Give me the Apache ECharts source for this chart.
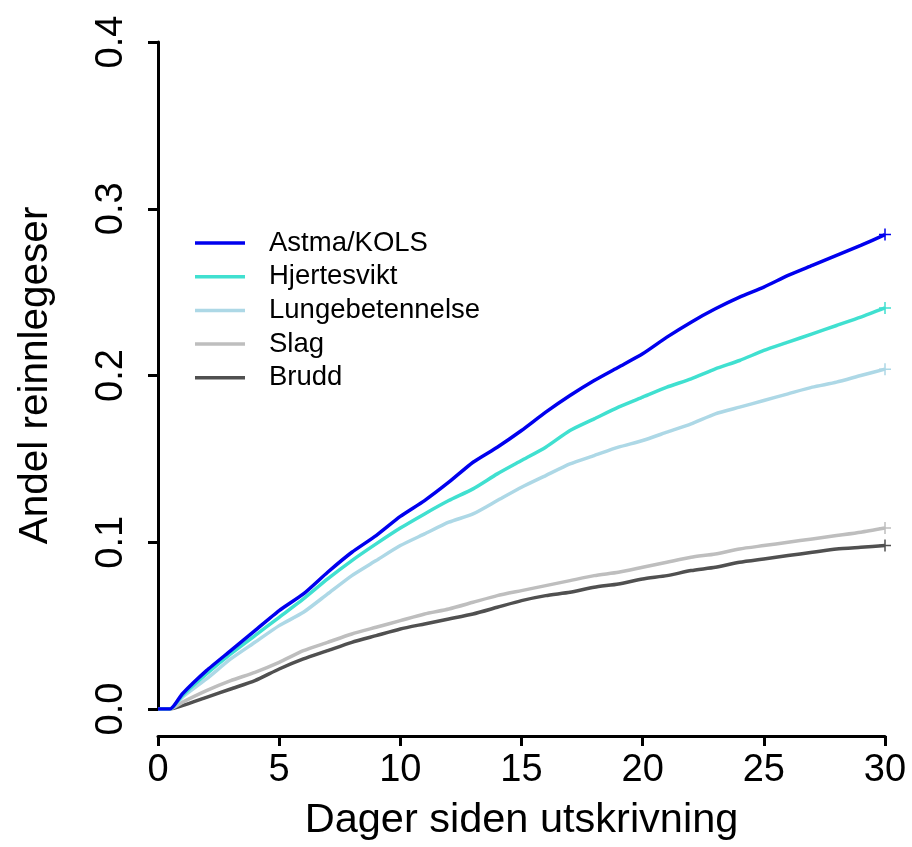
<!DOCTYPE html>
<html>
<head>
<meta charset="utf-8">
<script src="https://cdn.jsdelivr.net/npm/echarts@6/dist/echarts.min.js"></script>
<style>
html,body{margin:0;padding:0;background:#fff;}
#chart{width:912px;height:847px;}
</style>
</head>
<body>
<div id="chart"></div>
<script>
var days = [0,0.5,1,2,3,4,5,6,7,8,9,10,11,12,13,14,15,16,17,18,19,20,21,22,23,24,25,26,27,28,29,30];
var astma = [0,0,0.009,0.023,0.035,0.047,0.059,0.069,0.082,0.094,0.104,0.1155,0.125,0.136,0.148,0.157,0.167,0.178,0.188,0.197,0.205,0.213,0.223,0.232,0.240,0.247,0.253,0.260,0.266,0.272,0.278,0.2845];
var hjerte = [0,0,0.008,0.021,0.033,0.044,0.055,0.066,0.078,0.089,0.099,0.1085,0.117,0.125,0.132,0.141,0.149,0.157,0.167,0.174,0.181,0.187,0.193,0.198,0.204,0.209,0.215,0.220,0.225,0.230,0.235,0.2405];
var lunge = [0,0,0.007,0.018,0.030,0.040,0.050,0.058,0.069,0.080,0.089,0.098,0.105,0.112,0.117,0.125,0.133,0.140,0.147,0.152,0.157,0.161,0.166,0.171,0.177,0.181,0.185,0.189,0.193,0.196,0.200,0.2038];
var slag = [0,0,0.004,0.011,0.017,0.022,0.028,0.035,0.040,0.045,0.049,0.053,0.057,0.060,0.064,0.068,0.071,0.074,0.077,0.080,0.082,0.085,0.088,0.091,0.093,0.096,0.098,0.100,0.102,0.104,0.106,0.1085];
var brudd = [0,0,0.002,0.007,0.012,0.017,0.024,0.030,0.035,0.040,0.044,0.048,0.051,0.054,0.057,0.061,0.065,0.068,0.070,0.073,0.075,0.078,0.080,0.083,0.085,0.088,0.090,0.092,0.094,0.096,0.097,0.098];
var seriesNames = ['Astma/KOLS','Hjertesvikt','Lungebetennelse','Slag','Brudd'];
var seriesColors = ['#0000EE','#40E0D0','#ADD8E6','#BEBEBE','#505050'];
var xTicks = [0,5,10,15,20,25,30];
var yTicks = [0,0.1,0.2,0.3,0.4];

var allValues = [astma, hjerte, lunge, slag, brudd];
var FONT = 'Liberation Sans, Arial, Helvetica, sans-serif';

function buildData(vals, col){
  var d = [];
  for (var i = 0; i < days.length; i++){
    if (i === days.length - 1){
      d.push({value:[days[i], vals[i]], symbol:'path://M0,5 L10,5 M5,0 L5,10', symbolSize:12,
        itemStyle:{color:'none', borderColor:col, borderWidth:1.5}});
    } else {
      d.push([days[i], vals[i]]);
    }
  }
  return d;
}

var series = seriesNames.map(function(n, i){
  return {
    name:n, type:'line', data:buildData(allValues[i], seriesColors[i]),
    symbol:'none', showSymbol:true, smooth:0.2,
    color:seriesColors[i],
    lineStyle:{color:seriesColors[i], width:3.5},
    emphasis:{disabled:true}, z: 10 - i
  };
});

var chart = echarts.init(document.getElementById('chart'), null, {renderer:'canvas'});
chart.setOption({
  animation:false,
  backgroundColor:'#fff',
  textStyle:{fontFamily:FONT},
  grid:{left:158, right:27, top:42, bottom:133, containLabel:false},
  legend:{
    orient:'vertical', left:195, top:228, padding:0,
    icon:'rect', itemWidth:50, itemHeight:3.5, itemGap:3.7,
    data:seriesNames,
    textStyle:{fontFamily:FONT, fontSize:27.5, lineHeight:30, color:'#000', padding:[0,0,0,19]}
  },
  xAxis:{
    type:'value', min:0, max:30, interval:5, offset:27,
    name:'Dager siden utskrivning', nameLocation:'middle', nameGap:64,
    nameTextStyle:{fontFamily:FONT, fontSize:41.5, color:'#000'},
    axisLine:{show:true, onZero:false, lineStyle:{color:'#000', width:3}},
    axisTick:{show:true, length:10, lineStyle:{color:'#000', width:3}},
    axisLabel:{fontFamily:FONT, fontSize:38, color:'#000', margin:16,
      formatter:function(v){ return xTicks.indexOf(v) >= 0 ? String(v) : ''; }},
    splitLine:{show:false}
  },
  yAxis:{
    type:'value', min:0, max:0.4, interval:0.1,
    name:'Andel reinnlegeser', nameLocation:'middle', nameGap:102, nameRotate:90,
    nameTextStyle:{fontFamily:FONT, fontSize:40.5, color:'#000'},
    axisLine:{show:true, lineStyle:{color:'#000', width:3}},
    axisTick:{show:true, length:10, lineStyle:{color:'#000', width:3}},
    axisLabel:{fontFamily:FONT, fontSize:38, color:'#000', margin:27, rotate:90,
      formatter:function(v){ var t = yTicks.filter(function(k){return Math.abs(k-v)<1e-9;}); return t.length ? v.toFixed(1) : ''; }},
    splitLine:{show:false}
  },
  series:series
});
</script>
</body>
</html>
